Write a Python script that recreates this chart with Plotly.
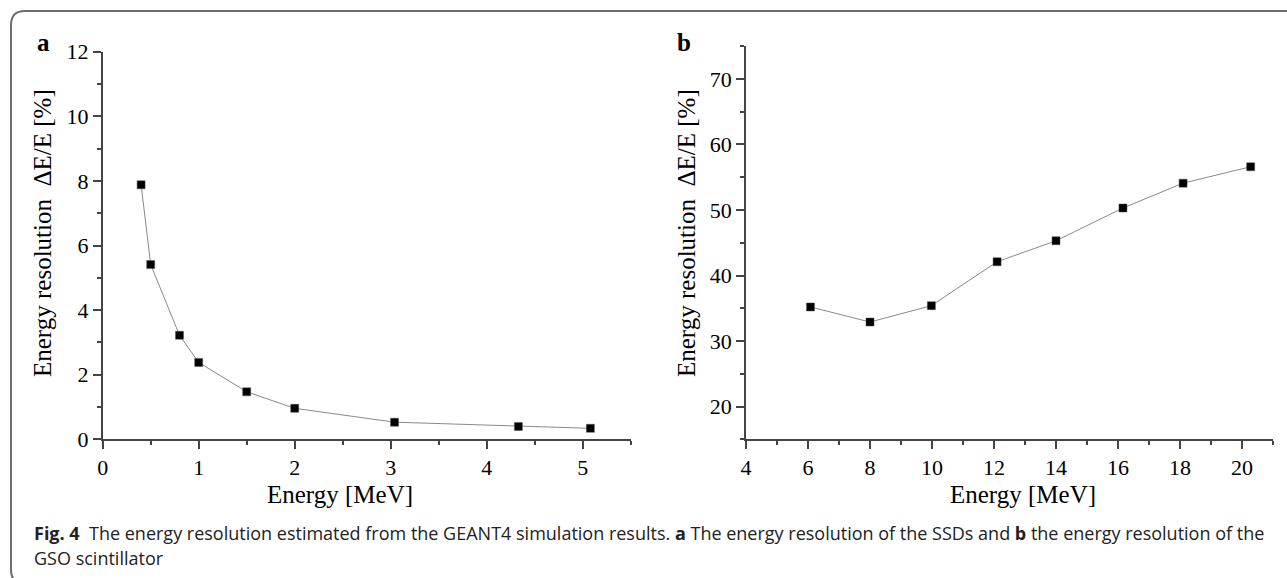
import plotly.graph_objects as go

# Panel a: SSD energy resolution
energy_a = [0.40, 0.50, 0.80, 1.00, 1.50, 2.00, 3.04, 4.33, 5.08]
res_a = [7.88, 5.41, 3.22, 2.38, 1.47, 0.96, 0.53, 0.40, 0.34]

# Panel b: GSO scintillator energy resolution
energy_b = [6.08, 8.00, 9.98, 12.10, 14.00, 16.16, 18.10, 20.28]
res_b = [35.2, 32.9, 35.4, 42.1, 45.3, 50.3, 54.1, 56.6]

W, H = 1287, 578
SERIF = "Liberation Serif, Times New Roman, serif"
SANS = "Open Sans, Noto Sans, sans-serif"


def px(x):
    return x / W


def py(y):
    return 1 - y / H


fig = go.Figure()

for xs, ys, xa, ya in [(energy_a, res_a, "x", "y"), (energy_b, res_b, "x2", "y2")]:
    fig.add_trace(go.Scatter(
        x=xs, y=ys, xaxis=xa, yaxis=ya, mode="lines+markers",
        line=dict(color="#8a8a8a", width=1),
        marker=dict(symbol="square", size=8, color="black",
                    line=dict(color="#555", width=0.5)),
        showlegend=False, hoverinfo="x+y",
    ))

minor_style = dict(ticklen=4, tickwidth=1.5, tickcolor="#444", ticks="outside")
axis_common = dict(
    showline=True, linecolor="#444", linewidth=1.5, mirror=False,
    showgrid=False, zeroline=False, ticks="outside", ticklen=8,
    tickwidth=1.5, tickcolor="#444", automargin=False,
    tickfont=dict(family=SERIF, size=22, color="black"),
    fixedrange=True,
)

fig.update_layout(
    template="none",
    width=W, height=H,
    margin=dict(l=0, r=0, t=0, b=0, pad=0, autoexpand=False),
    paper_bgcolor="white", plot_bgcolor="white",
    xaxis=dict(domain=[px(102.7), px(630.7)], range=[0, 5.5], dtick=1, tick0=0,
               anchor="y", minor=dict(dtick=0.5, **minor_style), **axis_common),
    yaxis=dict(domain=[py(439.3), py(51.7)], range=[0, 12], dtick=2, tick0=0,
               anchor="x", minor=dict(dtick=1, **minor_style), **axis_common),
    xaxis2=dict(domain=[px(746), px(1273)], range=[4, 21], dtick=2, tick0=0,
                anchor="y2", minor=dict(dtick=1, **minor_style), **axis_common),
    yaxis2=dict(domain=[py(439.3), py(46.2)], range=[15, 75], dtick=10, tick0=0,
                anchor="x2", minor=dict(dtick=5, **minor_style), **axis_common),
)

annotations = []
ytitle = "Energy resolution  \u0394E/E [%]"
for cx, cy in [(42, 233), (686, 233)]:
    annotations.append(dict(x=px(cx), y=py(cy), xref="paper", yref="paper",
                            text=ytitle, textangle=-90, showarrow=False,
                            font=dict(family=SERIF, size=25, color="black"),
                            xanchor="center", yanchor="middle"))
for cx in [340, 1023]:
    annotations.append(dict(x=px(cx), y=py(494), xref="paper", yref="paper",
                            text="Energy [MeV]", showarrow=False,
                            font=dict(family=SERIF, size=25, color="black"),
                            xanchor="center", yanchor="middle"))
for lbl, cx in [("a", 43), ("b", 684)]:
    annotations.append(dict(x=px(cx), y=py(42), xref="paper", yref="paper",
                            text="<b>%s</b>" % lbl, showarrow=False,
                            font=dict(family=SERIF, size=25, color="black"),
                            xanchor="center", yanchor="middle"))

caption1 = ("<b>Fig. 4</b>  The energy resolution estimated from the GEANT4 simulation "
            "results. <b>a</b> The energy resolution of the SSDs and <b>b</b> the "
            "energy resolution of the")
caption2 = "GSO scintillator"
annotations.append(dict(x=px(32), y=py(533), xref="paper", yref="paper",
                        text=caption1, showarrow=False, xanchor="left",
                        yanchor="middle",
                        font=dict(family=SANS, size=18, color="#222")))
annotations.append(dict(x=px(32), y=py(558), xref="paper", yref="paper",
                        text=caption2, showarrow=False, xanchor="left",
                        yanchor="middle",
                        font=dict(family=SANS, size=18, color="#222")))
fig.update_layout(annotations=annotations)

# rounded frame around the figure (open on the right, bottom edge below the canvas)
x0, y0, r = 11, 11, 14
path = ("M {xr},{yt} L {xa},{yt} Q {xl},{yt} {xl},{yb0} L {xl},{yb1} "
        "Q {xl},{ybot} {xa},{ybot} L {xr},{ybot}").format(
    xr=px(1300), yt=py(y0), xa=px(x0 + r), xl=px(x0), yb0=py(y0 + r),
    yb1=py(584 - r), ybot=py(584))
fig.add_shape(type="path", path=path, xref="paper", yref="paper",
              line=dict(color="#6e6e6e", width=2), layer="above")

fig.write_html("out.html")
